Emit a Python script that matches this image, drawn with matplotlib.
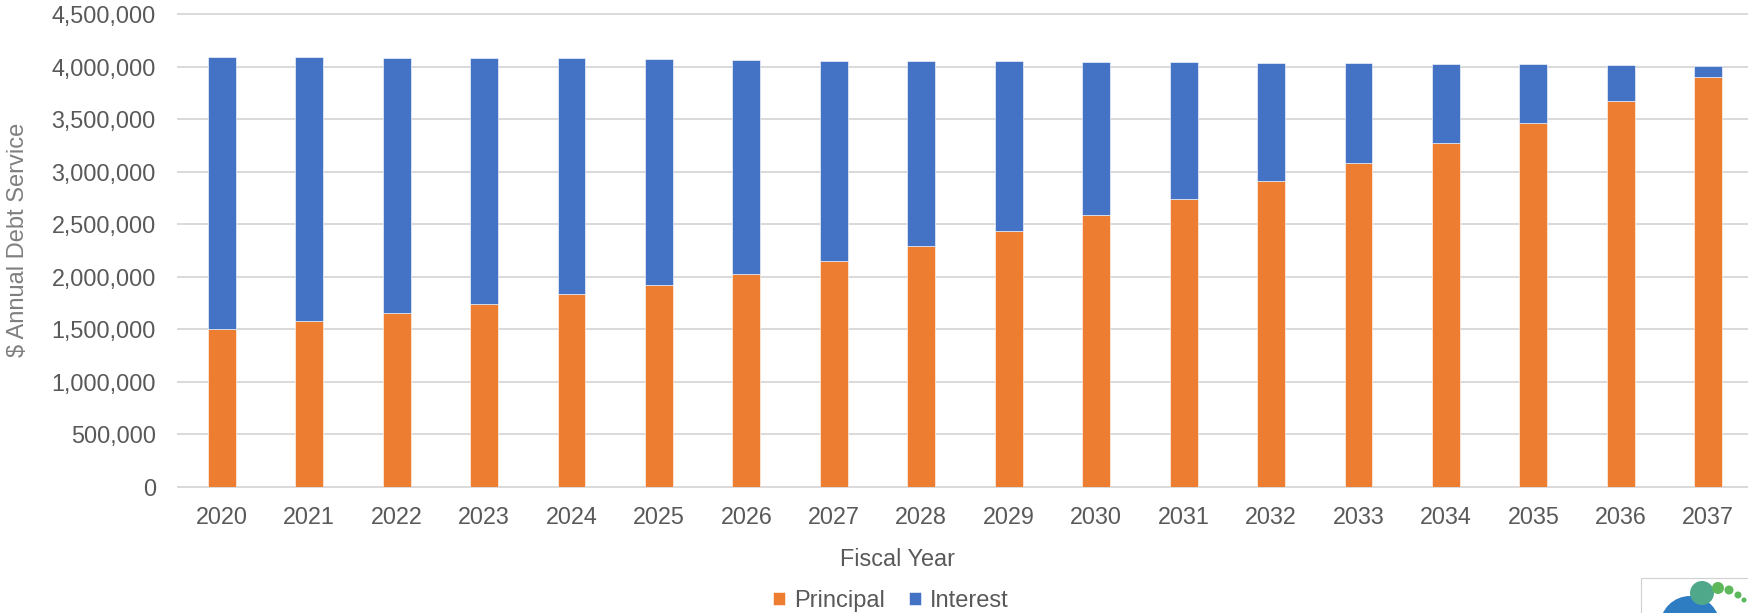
"""Redraw of the annual debt service chart (principal vs. interest by fiscal year)."""

import matplotlib

matplotlib.use("Agg")
import matplotlib.pyplot as plt
from matplotlib.patches import Circle, Rectangle
from matplotlib.ticker import FuncFormatter, MultipleLocator
from matplotlib.transforms import Affine2D

plt.rcParams["font.family"] = ["Liberation Sans", "DejaVu Sans"]

PRINCIPAL_ORANGE = "#ED7D31"
INTEREST_BLUE = "#4472C4"
TEXT_GREY = "#595959"
GRID_GREY = "#D9D9D9"

# Values (dollars).
years = [str(y) for y in range(2020, 2038)]
principal = [
    1498000, 1574000, 1654000, 1736000, 1831000, 1923000,
    2025000, 2152000, 2288000, 2431000, 2587000, 2742000,
    2910000, 3082000, 3269000, 3465000, 3672000, 3897000,
]
interest = [
    2590000, 2512000, 2427000, 2342000, 2247000, 2152000,
    2034000, 1904000, 1762000, 1619000, 1453000, 1298000,
    1126000, 952000, 758000, 556000, 343000, 111000,
]

W, H = 1748, 613


def px(x, y):
    """Convert pixel position (from the top-left) to figure fraction."""
    return x / W, 1 - y / H


def main() -> None:
    fig = plt.figure(figsize=(W / 100, H / 100), dpi=100)
    ax = fig.add_axes([178 / W, (H - 486.7) / H, (1752 - 178) / W, 472.7 / H])

    pos = range(len(years))
    ax.bar(pos, principal, width=0.32, color=PRINCIPAL_ORANGE,
           edgecolor="white", linewidth=0.4, label="Principal", zorder=3)
    ax.bar(pos, interest, bottom=principal, width=0.32, color=INTEREST_BLUE,
           edgecolor="white", linewidth=0.4, label="Interest", zorder=3)

    ax.set_xlim(-0.5, len(years) - 0.5)
    ax.set_ylim(0, 4500000)
    ax.yaxis.set_major_locator(MultipleLocator(500000))
    ax.yaxis.set_major_formatter(FuncFormatter(lambda v, _: f"{v:,.0f}"))
    ax.set_xticks(list(pos))
    ax.set_xticklabels(years)

    for side in ("left", "right", "top", "bottom"):
        ax.spines[side].set_visible(False)
    ax.grid(axis="y", color=GRID_GREY, linewidth=1.4, zorder=0)
    for gl in ax.get_ygridlines():
        gl.set_clip_on(False)
    ax.set_axisbelow(True)

    ax.tick_params(axis="x", length=0, pad=14, labelsize=16.8, colors=TEXT_GREY)
    ax.tick_params(axis="y", length=0, pad=16, labelsize=16.8, colors=TEXT_GREY)

    fig.text(*px(897, 559), "Fiscal Year", ha="center", va="center",
             fontsize=16.8, color=TEXT_GREY)
    fig.text(*px(18, 240), "$ Annual Debt Service", ha="center", va="center",
             rotation=90, fontsize=17, color="#7F7F7F")

    handles, labels = ax.get_legend_handles_labels()
    fig.legend(handles, labels, loc="center", bbox_to_anchor=px(891, 601),
               ncol=2, frameon=False, fontsize=17, labelcolor=TEXT_GREY,
               handlelength=0.5, handleheight=0.5, handletextpad=0.4,
               columnspacing=1.0, borderpad=0, borderaxespad=0)

    # Partial logo image peeking in at the lower-right corner (pixel coordinates).
    pix = Affine2D().scale(1, -1).translate(0, H)
    fig.patches.append(Rectangle((1641, 578), 120, 40, transform=pix,
                                 facecolor="white", edgecolor="#D0D0D0", lw=0.8))
    fig.patches.append(Circle((1690, 626), 30, transform=pix,
                              facecolor="#2E7DC2", edgecolor="none"))
    for cx, cy, r, c in [(1702, 593, 12, "#4FA88A"), (1718, 588, 6, "#5DB85C"),
                         (1729, 590, 4.5, "#5DB85C"), (1738, 595, 3.5, "#5DB85C"),
                         (1744, 600, 2.5, "#5DB85C")]:
        fig.patches.append(Circle((cx, cy), r, transform=pix,
                                  facecolor=c, edgecolor="none"))

    fig.savefig("out.png", dpi=100, facecolor="white")
    plt.close(fig)


if __name__ == "__main__":
    main()
